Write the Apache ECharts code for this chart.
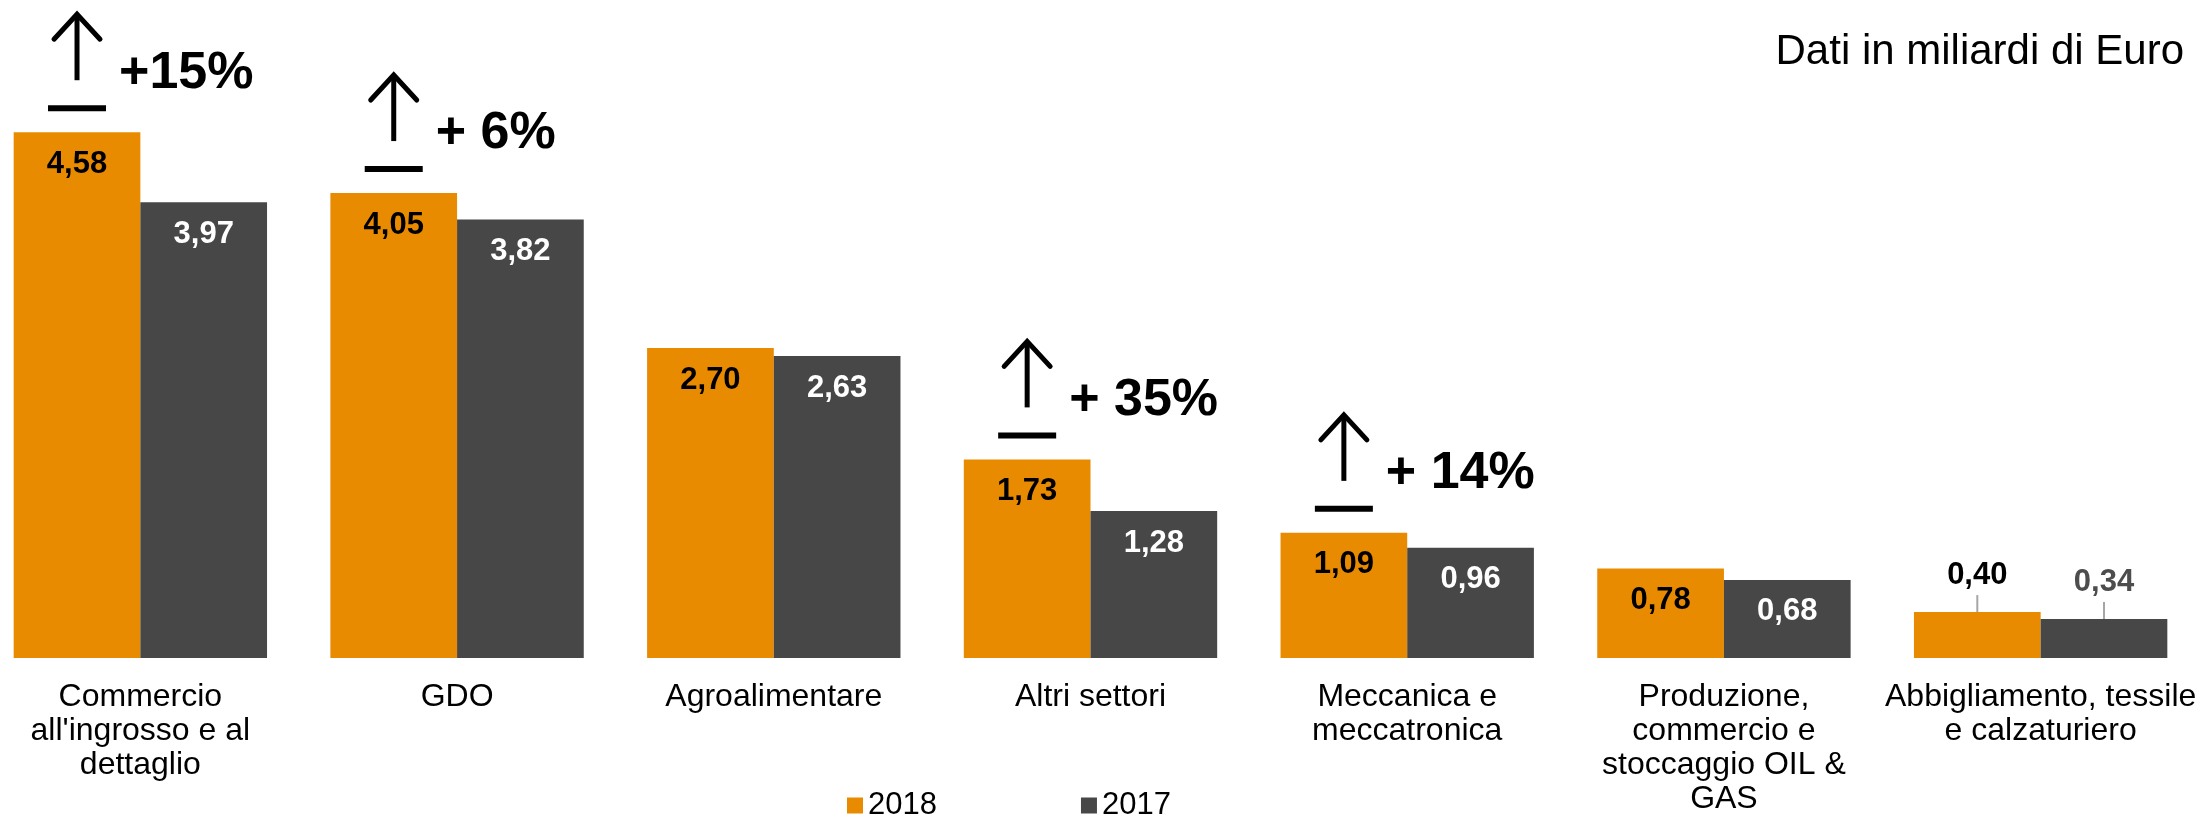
<!DOCTYPE html>
<html>
<head>
<meta charset="utf-8">
<script src="https://cdn.jsdelivr.net/npm/echarts@6/dist/echarts.min.js"></script>
<style>
html,body{margin:0;padding:0;background:#fff;}
#chart{width:2199px;height:818px;}
</style>
</head>
<body>
<div id="chart"></div>
<script>
const categories = [
  "Commercio\nall'ingrosso e al\ndettaglio",
  "GDO",
  "Agroalimentare",
  "Altri settori",
  "Meccanica e\nmeccatronica",
  "Produzione,\ncommercio e\nstoccaggio OIL &\nGAS",
  "Abbigliamento, tessile\ne calzaturiero"
];
const seriesNames = ["2018", "2017"];
const values2018 = [4.58, 4.05, 2.70, 1.73, 1.09, 0.78, 0.40];
const values2017 = [3.97, 3.82, 2.63, 1.28, 0.96, 0.68, 0.34];
const growthLabels = ["+15%", "+ 6%", null, "+ 35%", "+ 14%", null, null];
const unitNote = "Dati in miliardi di Euro";

const ORANGE = "#E98B00";
const DARK = "#474747";
const FONT = "'Liberation Sans', Arial, sans-serif";

const fmt = v => v.toFixed(2).replace('.', ',');

function buildBarData(values, insideColor, outsideColor) {
  return values.map(v => {
    if (v < 0.5) {
      return {
        value: v,
        label: {
          position: 'top',
          distance: 0,
          formatter: p => '{v|' + fmt(p.value) + '}\n{l| }',
          rich: {
            v: { fontSize: 31, fontWeight: 'bold', color: outsideColor, lineHeight: 40, fontFamily: FONT, align: 'center' },
            l: { width: 2, height: 17, backgroundColor: '#a6a6a6', align: 'center', fontSize: 1, lineHeight: 17 }
          }
        }
      };
    }
    return { value: v, label: { color: insideColor } };
  });
}

const annotationData = growthLabels
  .map((g, i) => g ? [i, values2018[i], g] : null)
  .filter(d => d);

const chart = echarts.init(document.getElementById('chart'), null, { renderer: 'canvas' });

const option = {
  animation: false,
  backgroundColor: '#ffffff',
  textStyle: { fontFamily: FONT },
  title: {
    text: unitNote,
    right: 10,
    top: 26,
    textStyle: { fontSize: 42, fontWeight: 'normal', color: '#000', fontFamily: FONT }
  },
  legend: {
    data: seriesNames,
    left: 842,
    top: 785,
    itemWidth: 16,
    itemHeight: 16,
    itemGap: 144,
    icon: 'rect',
    textStyle: { fontSize: 31, color: '#000', fontFamily: FONT, lineHeight: 30, padding: [0, 0, 0, 0] }
  },
  grid: { left: -18, right: 0, top: 84, bottom: 160, containLabel: false, outerBoundsMode: 'none' },
  xAxis: {
    type: 'category',
    data: categories,
    axisLine: { show: false },
    axisTick: { show: false },
    axisLabel: {
      interval: 0,
      margin: 22,
      fontSize: 32,
      lineHeight: 34,
      color: '#000',
      fontFamily: FONT,
      verticalAlign: 'top',
      hideOverlap: false
    }
  },
  yAxis: {
    type: 'value',
    min: 0,
    max: 5,
    show: false,
    splitLine: { show: false }
  },
  series: [
    {
      name: seriesNames[0],
      type: 'bar',
      barGap: '0%',
      barCategoryGap: '20%',
      itemStyle: { color: ORANGE },
      label: {
        show: true,
        position: 'insideTop',
        distance: 17,
        fontSize: 31,
        lineHeight: 30,
        fontWeight: 'bold',
        fontFamily: FONT,
        formatter: p => fmt(p.value)
      },
      data: buildBarData(values2018, '#000000', '#000000')
    },
    {
      name: seriesNames[1],
      type: 'bar',
      itemStyle: { color: DARK },
      label: {
        show: true,
        position: 'insideTop',
        distance: 17,
        fontSize: 31,
        lineHeight: 30,
        fontWeight: 'bold',
        fontFamily: FONT,
        formatter: p => fmt(p.value)
      },
      data: buildBarData(values2017, '#ffffff', '#4d4d4d')
    },
    {
      type: 'custom',
      clip: false,
      z: 10,
      silent: true,
      data: annotationData,
      renderItem: function (params, api) {
        const pt = api.coord([api.value(0), api.value(1)]);
        const band = api.size([1, 0])[0];
        const cx = pt[0] - band * 0.2;
        const top = pt[1];
        const tip = top - 118;
        const label = annotationData[params.dataIndex][2];
        return {
          type: 'group',
          children: [
            {
              type: 'polyline',
              shape: { points: [[cx, tip + 2], [cx, top - 52]] },
              style: { stroke: '#000', lineWidth: 5, fill: null }
            },
            {
              type: 'polyline',
              shape: { points: [[cx - 23, tip + 25], [cx, tip], [cx + 23, tip + 25]] },
              style: { stroke: '#000', lineWidth: 5, fill: null, lineCap: 'round', lineJoin: 'miter' }
            },
            {
              type: 'rect',
              shape: { x: cx - 29, y: top - 27, width: 58, height: 6 },
              style: { fill: '#000' }
            },
            {
              type: 'text',
              x: cx + 42,
              y: top - 59,
              style: {
                text: label,
                fontSize: 52,
                fontWeight: 'bold',
                fontFamily: FONT,
                fill: '#000',
                verticalAlign: 'middle',
                align: 'left'
              }
            }
          ]
        };
      }
    }
  ]
};

chart.setOption(option);
</script>
</body>
</html>
